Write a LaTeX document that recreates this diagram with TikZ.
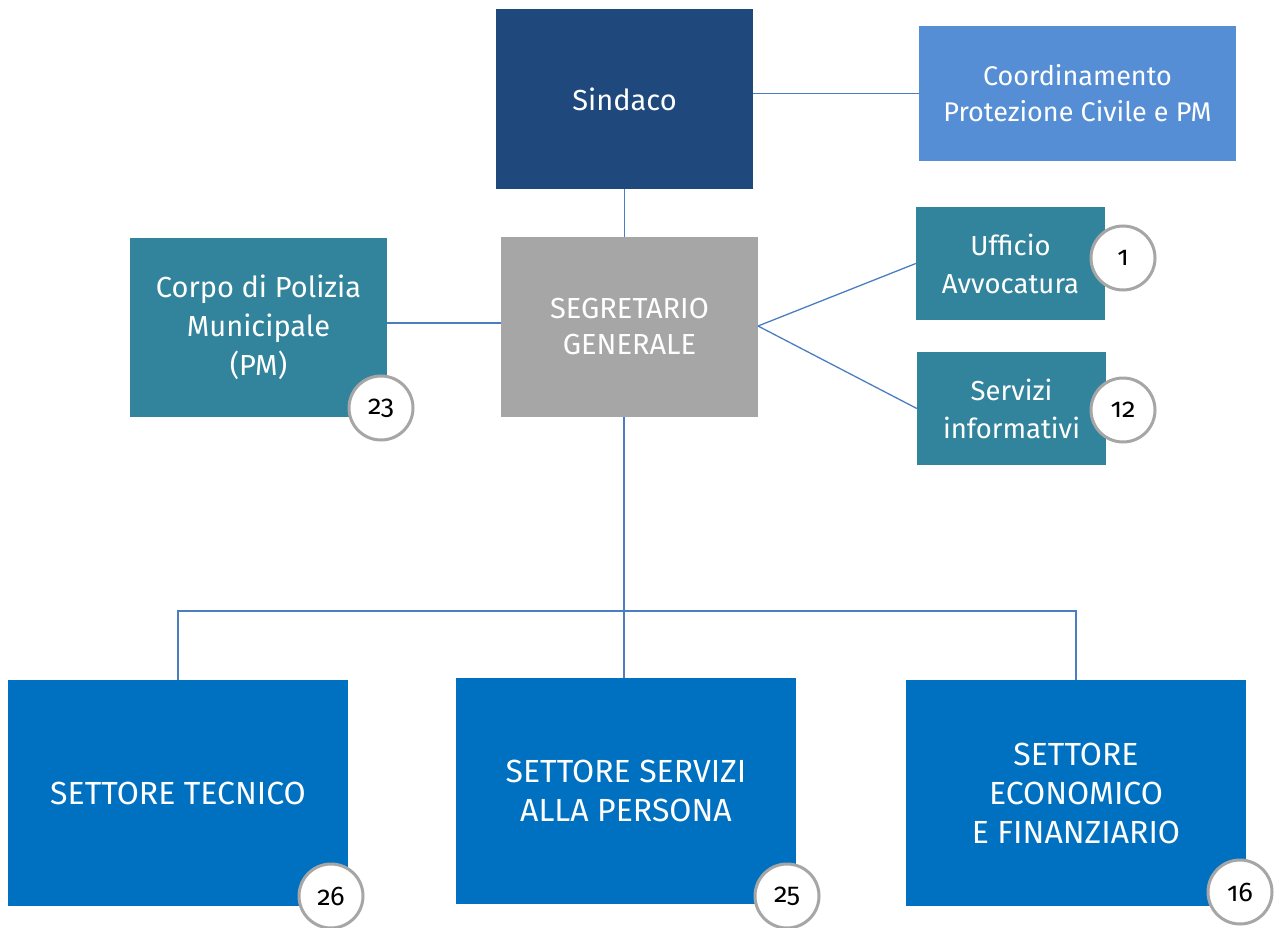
\documentclass[tikz,border=0pt]{standalone}
\usepackage{fontspec}
\setmainfont{Fira Sans}[Numbers=OldStyle]
\definecolor{navy}{RGB}{31,73,125}
\definecolor{lblue}{RGB}{85,142,213}
\definecolor{teal}{RGB}{49,132,155}
\definecolor{segr}{RGB}{166,166,166}
\definecolor{sblue}{RGB}{0,112,192}
\definecolor{conn}{RGB}{74,126,193}
\definecolor{ring}{RGB}{166,166,166}
\begin{document}
\begin{tikzpicture}[x=1pt,y=-1pt,
  box/.style={rectangle,inner sep=0pt,text=white,align=center,font=\fontsize{26}{37}\selectfont},
  badge/.style={circle,draw=ring,line width=3pt,fill=white,minimum size=64pt,inner sep=0pt,font=\fontsize{27}{28}\selectfont},
  link/.style={draw=conn,line width=1.3pt}]
\useasboundingbox (0,0) rectangle (1276,928);
\node[box,fill=navy,minimum width=257pt,minimum height=180pt,font=\fontsize{29}{36}\selectfont] (sind) at (624.5,99) {Sindaco};
\node[box,fill=lblue,minimum width=317pt,minimum height=135pt,font=\fontsize{27}{36}\selectfont] (coord) at (1077.5,93.5) {Coordinamento\\Protezione Civile e PM};
\node[box,fill=segr,minimum width=257pt,minimum height=180pt,font=\fontsize{29}{36}\selectfont] (segr) at (629.5,327) {SEGRETARIO\\GENERALE};
\node[box,fill=teal,minimum width=257pt,minimum height=179pt,font=\fontsize{29}{39}\selectfont] (corpo) at (258.5,327.5) {Corpo di Polizia\\Municipale\\(PM)};
\node[box,fill=teal,minimum width=189pt,minimum height=113pt,font=\fontsize{27.5}{38}\selectfont] (uff) at (1010.5,263.5) {Ufficio\\Avvocatura};
\node[box,fill=teal,minimum width=189pt,minimum height=113pt,font=\fontsize{27.5}{38}\selectfont] (serv) at (1011.5,408.5) {Servizi\\informativi};
\node[box,fill=sblue,minimum width=340pt,minimum height=226pt,font=\fontsize{32}{39}\selectfont] (tec) at (178,793) {SETTORE TECNICO};
\node[box,fill=sblue,minimum width=340pt,minimum height=226pt,font=\fontsize{32}{39}\selectfont] (pers) at (626,791) {SETTORE SERVIZI\\ALLA PERSONA};
\node[box,fill=sblue,minimum width=340pt,minimum height=226pt,font=\fontsize{32}{39}\selectfont] (econ) at (1076,793) {SETTORE\\ECONOMICO\\E FINANZIARIO};
\coordinate (bus) at (624,611);
\coordinate (sr) at (758,326);
\draw[link] (coord.west) -- (coord.west -| sind.east);
\draw[link] (sind.south) -- (sind.south |- segr.north);
\draw[link] (corpo.east |- 0,323) -- (segr.west |- 0,323);
\draw[link] (sr) -- (uff.west);
\draw[link] (sr) -- (serv.west);
\draw[link] (bus |- segr.south) -- (bus);
\draw[link] (tec.north) -- (tec.north |- bus) -- (econ.north |- bus) -- (econ.north);
\draw[link] (bus) -- (bus |- pers.north);
\node[badge] (b1) at (1123,258) {1};
\node[badge] (b12) at (1123,410) {12};
\node[badge] (b23) at (381,408) {23};
\node[badge] (b26) at (331,896) {26};
\node[badge] (b25) at (787,896) {25};
\node[badge] (b16) at (1240,892) {16};
\end{tikzpicture}
\end{document}
